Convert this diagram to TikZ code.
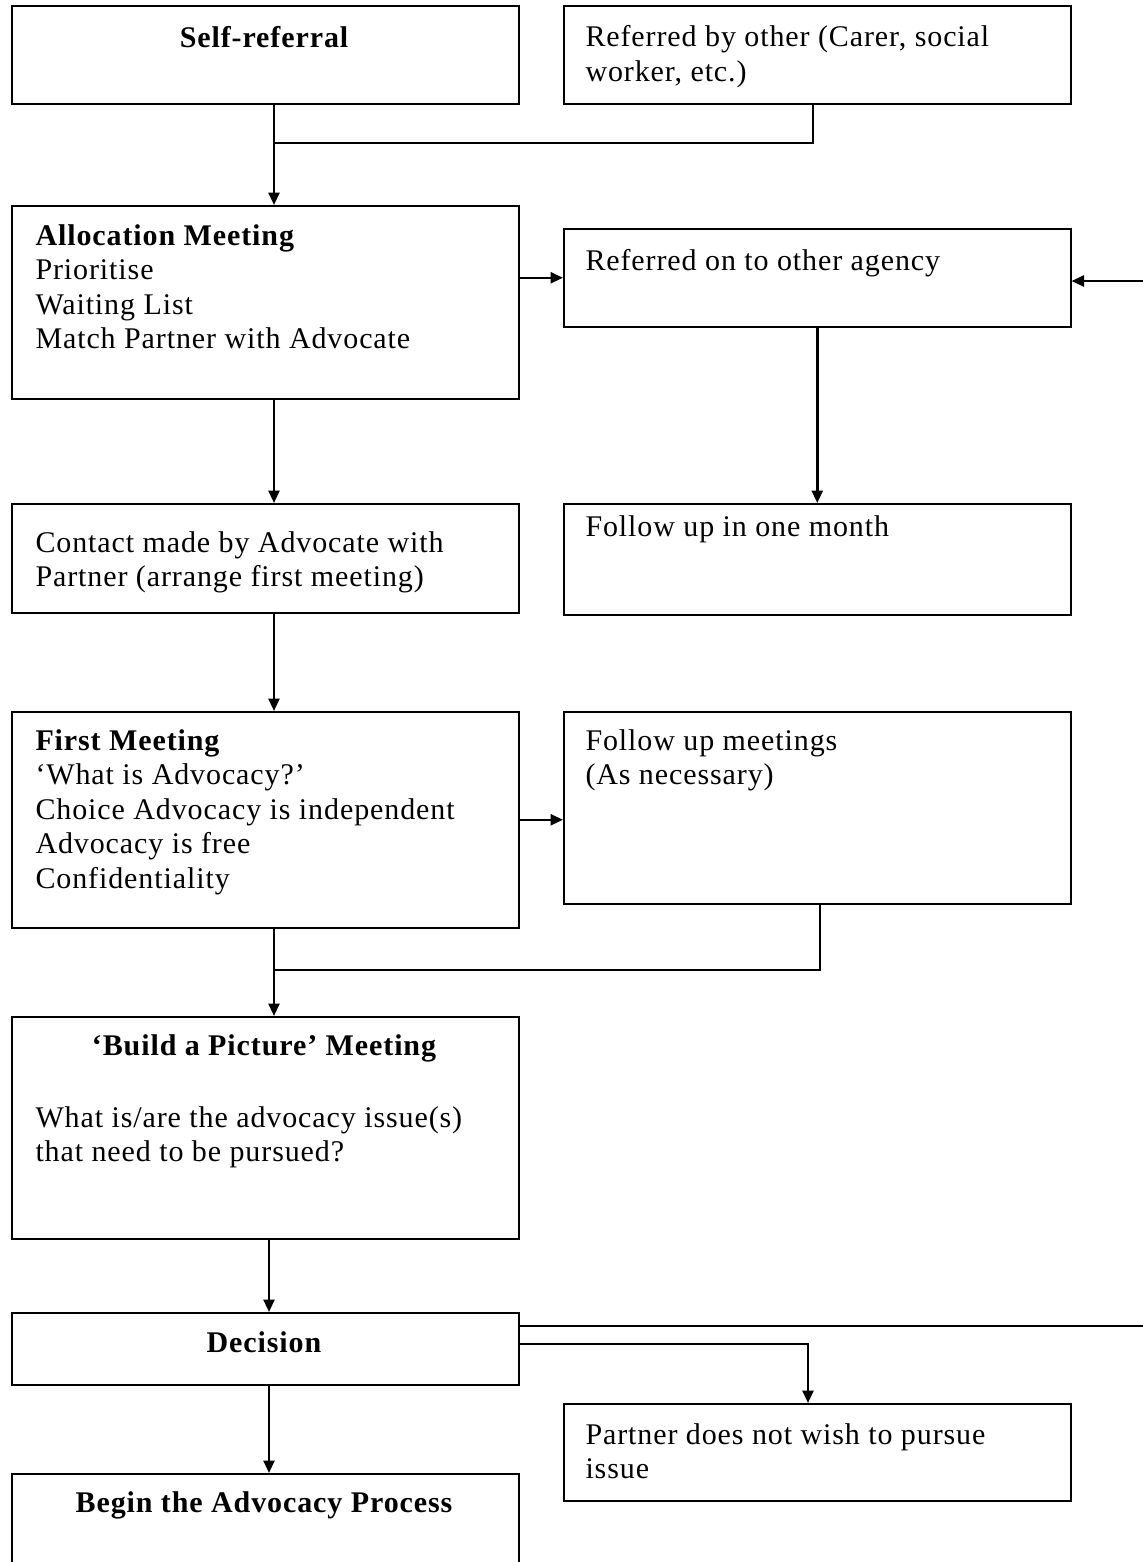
\documentclass[tikz,border=0pt]{standalone}
\usepackage{fontspec}
\setmainfont[LetterSpace=3]{Liberation Serif}
\usetikzlibrary{arrows.meta}
\newcommand{\boxfont}{\fontsize{12}{13.8}\selectfont}
\tikzset{
	box/.style={draw, line width=0.6pt, anchor=north west, inner sep=0, minimum width=202.8pt},
	txt/.style={anchor=north west, align=left, inner sep=0, font=\boxfont},
	ttl/.style={inner sep=0, font=\boxfont\bfseries},
	conn/.style={line width=1pt},
	arr/.style={conn, -{Triangle[length=5pt,width=4.4pt]}}
}

\begin{document}
\begin{tikzpicture}[x=0.4pt,y=-0.4pt]
		\useasboundingbox (0,0) rectangle (1143,1562);
		% boxes
		\node[box, minimum height=39.2pt] (self) at (11,5) {};
		\node[box, minimum height=39.2pt] (other) at (563,5) {};
		\node[box, minimum height=77.2pt] (alloc) at (11,205) {};
		\node[box, minimum height=39.2pt] (agency) at (563,228) {};
		\node[box, minimum height=43.6pt] (contact) at (11,503) {};
		\node[box, minimum height=44.4pt] (follow) at (563,503) {};
		\node[box, minimum height=86.4pt] (first) at (11,711) {};
		\node[box, minimum height=76.8pt] (meetings) at (563,711) {};
		\node[box, minimum height=88.8pt] (build) at (11,1016) {};
		\node[box, minimum height=28.8pt] (decision) at (11,1312) {};
		\node[box, minimum height=38.8pt] (partner) at (563,1403) {};
		\node[box, minimum height=40pt] (begin) at (11,1473) {};
		% texts
		\node[ttl] (selfT) at (264,37) {Self-referral};
		\node[txt] (otherT) at (585,25) {Referred by other (Carer, social\\worker, etc.)};
		\node[txt] (allocT) at (35,224) {\textbf{Allocation Meeting}\\Prioritise\\Waiting List\\Match Partner with Advocate};
		\node[txt] (agencyT) at (585,249) {Referred on to other agency};
		\node[txt] (contactT) at (35,531) {Contact made by Advocate with\\Partner (arrange first meeting)};
		\node[txt] (followT) at (585,515) {Follow up in one month};
		\node[txt] (firstT) at (35,729) {\textbf{First Meeting}\\‘What is Advocacy?’\\Choice Advocacy is independent\\Advocacy is free\\Confidentiality};
		\node[txt] (meetingsT) at (585,729) {Follow up meetings\\(As necessary)};
		\node[ttl] (buildT) at (264,1048) {‘Build a Picture’ Meeting};
		\node[txt] (buildB) at (35,1106) {What is/are the advocacy issue(s)\\that need to be pursued?};
		\node[ttl] (decisionT) at (264,1342) {Decision};
		\node[txt] (partnerT) at (585,1423) {Partner does not wish to pursue\\issue};
		\node[ttl] (beginT) at (264,1505) {Begin the Advocacy Process};
		% connectors
		\coordinate (j1) at (274,143);
		\coordinate (j2) at (813,143);
		\coordinate (j3) at (820,970);
		\coordinate (c2) at (269,0);
		\coordinate (e1) at (1143,281);
		\coordinate (e2) at (1143,1326);
		\coordinate (j4) at (808,1344);
		\draw[conn] (self.south -| j1) -- (j1);
		\draw[conn] (other.south -| j2) -- (j2) -- (j1);
		\draw[arr] (j1) -- (alloc.north -| j1);
		\draw[arr] (alloc.east |- agency.west) -- (agency.west);
		\draw[arr] (e1) -- (agency.east |- e1);
		\draw[arr] (agency.south) -- (follow.north);
		\draw[arr] (alloc.south -| j1) -- (contact.north -| j1);
		\draw[arr] (contact.south -| j1) -- (first.north -| j1);
		\draw[arr] (first.east) -- (first.east -| meetings.west);
		\draw[conn] (meetings.south -| j3) -- (j3) -- (j3 -| j1);
		\draw[arr] (first.south -| j1) -- (build.north -| j1);
		\draw[arr] (build.south -| c2) -- (decision.north -| c2);
		\draw[conn] (decision.east |- e2) -- (e2);
		\draw[arr] (decision.east |- j4) -- (j4) -- (partner.north -| j4);
		\draw[arr] (decision.south -| c2) -- (begin.north -| c2);
	\end{tikzpicture}
\end{document}
